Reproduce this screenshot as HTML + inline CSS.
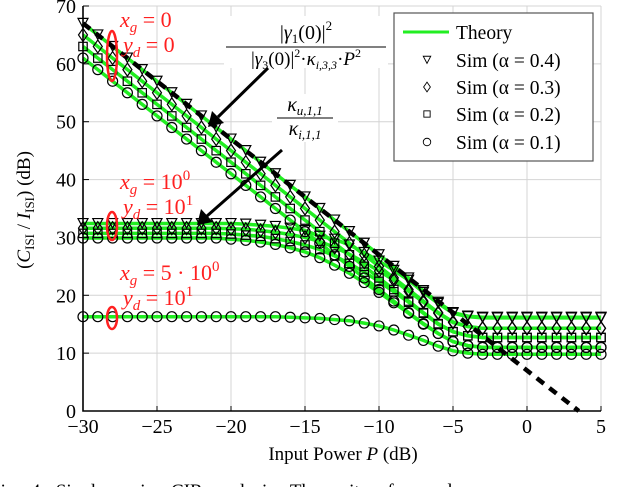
<!DOCTYPE html>
<html><head><meta charset="utf-8"><style>
body{margin:0;background:#fff;}
svg{display:block;font-family:"Liberation Serif",serif;}
</style></head><body>
<svg id="chart" width="640" height="487" viewBox="0 0 640 487" xmlns="http://www.w3.org/2000/svg">
<g id="grid"></g>
<g id="series"></g>
<g id="axes"></g>
<g id="annot">
  <g fill="#ff2020" font-style="italic" font-size="22">
    <text x="120" y="27">x<tspan font-size="15" dy="5">g</tspan><tspan dy="-5" font-style="normal"> = 0</tspan></text>
    <text x="123" y="52">y<tspan font-size="15" dy="5">d</tspan><tspan dy="-5" font-style="normal"> = 0</tspan></text>
    <text x="120" y="189">x<tspan font-size="15" dy="5">g</tspan><tspan dy="-5" font-style="normal"> = 10</tspan><tspan font-style="normal" font-size="15" dy="-9">0</tspan></text>
    <text x="123" y="214">y<tspan font-size="15" dy="5">d</tspan><tspan dy="-5" font-style="normal"> = 10</tspan><tspan font-style="normal" font-size="15" dy="-9">1</tspan></text>
    <text x="120" y="280">x<tspan font-size="15" dy="5">g</tspan><tspan dy="-5" font-style="normal"> = 5 · 10</tspan><tspan font-style="normal" font-size="15" dy="-9">0</tspan></text>
    <text x="123" y="305">y<tspan font-size="15" dy="5">d</tspan><tspan dy="-5" font-style="normal"> = 10</tspan><tspan font-style="normal" font-size="15" dy="-9">1</tspan></text>
    <ellipse cx="112" cy="56" rx="5" ry="25" fill="none" stroke="#ff2020" stroke-width="2.5"/>
    <ellipse cx="112" cy="226" rx="5" ry="14" fill="none" stroke="#ff2020" stroke-width="2.5"/>
    <ellipse cx="112" cy="318" rx="5" ry="11" fill="none" stroke="#ff2020" stroke-width="2.5"/>
  </g>
  <g font-size="20">
    <rect x="224" y="16" width="164" height="52" fill="#fff"/>
    <text x="306" y="39" text-anchor="middle">|<tspan font-style="italic">γ</tspan><tspan font-size="13" dy="4">1</tspan><tspan dy="-4">(0)|</tspan><tspan font-size="13" dy="-9">2</tspan></text>
    <line x1="226" y1="47" x2="386" y2="47" stroke="#000" stroke-width="1"/>
    <text x="306" y="65" text-anchor="middle" font-size="19">|<tspan font-style="italic">γ</tspan><tspan font-size="12" dy="4">3</tspan><tspan dy="-4">(0)|</tspan><tspan font-size="12" dy="-8">2</tspan><tspan dy="8">·</tspan><tspan font-style="italic">κ</tspan><tspan font-size="12" font-style="italic" dy="4">i,3,3</tspan><tspan dy="-4">·</tspan><tspan font-style="italic">P</tspan><tspan font-size="12" dy="-8">2</tspan></text>
  </g>
  <g font-size="20" font-style="italic">
    <rect x="272" y="94" width="66" height="48" fill="#fff"/>
    <text x="305" y="111" text-anchor="middle">κ<tspan font-size="13" dy="4">u,1,1</tspan></text>
    <line x1="277" y1="118" x2="333" y2="118" stroke="#000" stroke-width="1"/>
    <text x="305" y="135" text-anchor="middle">κ<tspan font-size="13" dy="4">i,1,1</tspan></text>
  </g>
  <g stroke="#000" stroke-width="3" fill="#000">
    <line x1="268" y1="68" x2="218" y2="117"/>
    <polygon points="208,127 212,111 224,123" stroke="none"/>
    <line x1="282" y1="150" x2="207" y2="216"/>
    <polygon points="197,225 201,209 213,222" stroke="none"/>
  </g>
</g>
<g id="legend"></g>
<text x="343" y="460" text-anchor="middle" font-size="19">Input Power <tspan font-style="italic">P</tspan> (dB)</text>
<text transform="translate(30,210) rotate(-90)" text-anchor="middle" font-size="19">(<tspan font-style="italic">C</tspan><tspan font-size="13" dy="4">ISI</tspan><tspan dy="-4"> / </tspan><tspan font-style="italic">I</tspan><tspan font-size="13" dy="4">ISI</tspan><tspan dy="-4">)  (dB)</tspan></text>
<text x="-10" y="497" font-size="19" word-spacing="6">Fig. 4.   Single-carrier  CIR  analysis.  The  units  of  x  and  y  are</text>
</svg>
<script>
const xTicks=[-30,-25,-20,-15,-10,-5,0,5];
const yTicks=[0,10,20,30,40,50,60,70];
const powers=[-30,-29,-28,-27,-26,-25,-24,-23,-22,-21,-20,-19,-18,-17,-16,-15,-14,-13,-12,-11,-10,-9,-8,-7,-6,-5,-4,-3,-2,-1,0,1,2,3,4,5];
const aTri=[67,65,63,61,59,57,55,53,51,49,47,45,43,41,39,37,35,33,31,29,27,25,23,20.8,18.8,17,16.4,16.2,16.2,16.2,16.2,16.2,16.2,16.2,16.2,16.2];
const aDia=[65,63,61,59,57,55,53,51,49,47,45,43,41,39,37,35,33,31,29,27,25,23,21,19,17,15.4,14.6,14.3,14.3,14.3,14.3,14.3,14.3,14.3,14.3,14.3];
const aSq=[63,61,59,57,55,53,51,49,47,45,43,41,39,37,35,33,31,29,27,25,23,21,19,17,15.1,13.7,13,12.7,12.7,12.7,12.7,12.7,12.7,12.7,12.7,12.7];
const aCirc=[61,59,57,55,53,51,49,47,45,43,41,39,37,35,33,31,29,27,25,23,21,19,17,15.1,13.4,12,11.3,11,11,11,11,11,11,11,11,11];
const bTri=[32.4,32.4,32.4,32.4,32.4,32.4,32.4,32.4,32.4,32.4,32.4,32.3,32.1,31.9,31.6,31.2,30.2,29.7,28.7,27.4,25.9,24.3,22.6,20.5,18.6,16.9,16.3,16.1,16.1,16.1,16.1,16.1,16.1,16.1,16.1,16.1];
const bDia=[31.6,31.6,31.6,31.6,31.6,31.6,31.6,31.6,31.6,31.6,31.5,31.4,31.2,30.9,30.5,30,29.3,28.3,27.1,25.7,24.2,22.6,20.7,18.8,16.9,15.3,14.6,14.3,14.3,14.3,14.3,14.3,14.3,14.3,14.3,14.3];
const bSq=[30.7,30.7,30.7,30.7,30.7,30.7,30.7,30.7,30.7,30.7,30.6,30.4,30.2,29.8,29.3,28.7,27.9,26.8,25.5,24,22.4,20.6,18.8,16.9,15,13.7,13,12.7,12.7,12.7,12.7,12.7,12.7,12.7,12.7,12.7];
const bCirc=[29.9,29.9,29.9,29.9,29.9,29.9,29.9,29.9,29.9,29.9,29.7,29.5,29.2,28.8,28.2,27.5,26.5,25.2,23.8,22.2,20.5,18.7,16.9,15,13.4,12,11.3,11,11,11,11,11,11,11,11,11];
const cCirc=[16.3,16.3,16.3,16.3,16.3,16.3,16.3,16.3,16.3,16.3,16.3,16.3,16.3,16.3,16.2,16.1,16,15.8,15.6,15.2,14.7,14,13.1,12.2,11.2,10.4,10,9.8,9.8,9.8,9.8,9.8,9.8,9.8,9.8,9.8];
const dashX=[-30,3.5];
const dashY=[67,0];

const NS="http://www.w3.org/2000/svg";
const X0=83,X1=601,Y0=411,Y1=6;
const xs=v=>X0+(v+30)/35*(X1-X0);
const ys=v=>Y0-v/70*(Y0-Y1);
function mk(tag,attrs,parent){const e=document.createElementNS(NS,tag);for(const k in attrs)e.setAttribute(k,attrs[k]);parent.appendChild(e);return e;}
const grid=document.getElementById('grid'),axes=document.getElementById('axes'),ser=document.getElementById('series'),leg=document.getElementById('legend');
xTicks.forEach(t=>{
  const l=mk('line',{x1:xs(t),x2:xs(t),y1:Y1,y2:Y0,stroke:'#d4d4d4','stroke-width':1},grid);
  
  
  mk('line',{x1:xs(t),x2:xs(t),y1:Y0,y2:Y0-5,stroke:'#000'},axes);
  const tx=mk('text',{x:xs(t),y:433,'text-anchor':'middle','font-size':20},axes);
  tx.textContent=(t<0?'\u2212'+(-t):t);
  
  
});
yTicks.forEach(t=>{
  const l=mk('line',{x1:X0,x2:X1,y1:ys(t),y2:ys(t),stroke:'#d4d4d4','stroke-width':1},grid);
  
  
  mk('line',{x1:X0,x2:X0+6,y1:ys(t),y2:ys(t),stroke:'#000'},axes);
  const tx=mk('text',{x:76,y:ys(t)+7,'text-anchor':'end','font-size':20},axes);
  tx.textContent=t;
  
  
});
const axL=mk('path',{d:`M${X0},${Y1}V${Y0}H${X1}`,fill:'none',stroke:'#000','stroke-width':1.6},axes);



function line(arr,w,name){
  const d=powers.map((p,i)=>(i?'L':'M')+xs(p).toFixed(1)+','+ys(arr[i]).toFixed(1)).join('');
  const e=mk('path',{d:d,fill:'none',stroke:'#22ee22','stroke-width':w},ser);
  
  
}
function marker(type,cx,cy,g){
  const a={fill:'none',stroke:'#000','stroke-width':1.2};
  if(type==='tri')return mk('path',Object.assign({d:`M${cx-5},${cy-5}H${cx+5}L${cx},${cy+4.5}Z`},a),g);
  if(type==='dia')return mk('path',Object.assign({d:`M${cx},${cy-6.5}L${cx+4.5},${cy}L${cx},${cy+6.5}L${cx-4.5},${cy}Z`},a),g);
  if(type==='sq')return mk('rect',Object.assign({x:cx-4.2,y:cy-4.2,width:8.4,height:8.4},a),g);
  return mk('circle',Object.assign({cx:cx,cy:cy,r:5},a),g);
}
function marks(arr,type,name){
  const g=mk('g',{},ser);
  
  
  powers.forEach((p,i)=>marker(type,xs(p),ys(arr[i]),g));
}
const all=[[aTri,'tri','a-tri'],[aDia,'dia','a-dia'],[aSq,'sq','a-sq'],[aCirc,'circ','a-circ'],[bTri,'tri','b-tri'],[bDia,'dia','b-dia'],[bSq,'sq','b-sq'],[bCirc,'circ','b-circ']];
all.forEach(s=>line(s[0],3.5,'theory-'+s[2]));
line(cCirc,3.5,'theory-c');
const dl=mk('path',{d:`M${xs(dashX[0])},${ys(dashY[0])}L${xs(dashX[1])},${ys(dashY[1])}`,stroke:'#000','stroke-width':4.5,'stroke-dasharray':'9,7',fill:'none'},ser);


all.forEach(s=>marks(s[0],s[1],'sim-'+s[2]));
marks(cCirc,'circ','sim-c-circ');

const bx=mk('rect',{x:394,y:13,width:199,height:148,fill:'#fff',stroke:'#555','stroke-width':1.2},leg);


const legY=[32,60,87,114,142];
const legLabels=['Theory','Sim (\u03b1 = 0.4)','Sim (\u03b1 = 0.3)','Sim (\u03b1 = 0.2)','Sim (\u03b1 = 0.1)'];
const legTypes=['line','tri','dia','sq','circ'];
legY.forEach((y,i)=>{
  const g=mk('g',{},leg);
  
  
  if(legTypes[i]==='line')mk('line',{x1:403,x2:449,y1:y,y2:y,stroke:'#22ee22','stroke-width':3},g);
  else {const m=marker(legTypes[i],427,y,g);m.setAttribute('transform',`translate(${427*0.25},${y*0.25}) scale(0.75)`);}
  const t=mk('text',{x:456,y:y+7,'font-size':19.5},g);
  t.textContent=legLabels[i];
});
</script>
</body></html>
